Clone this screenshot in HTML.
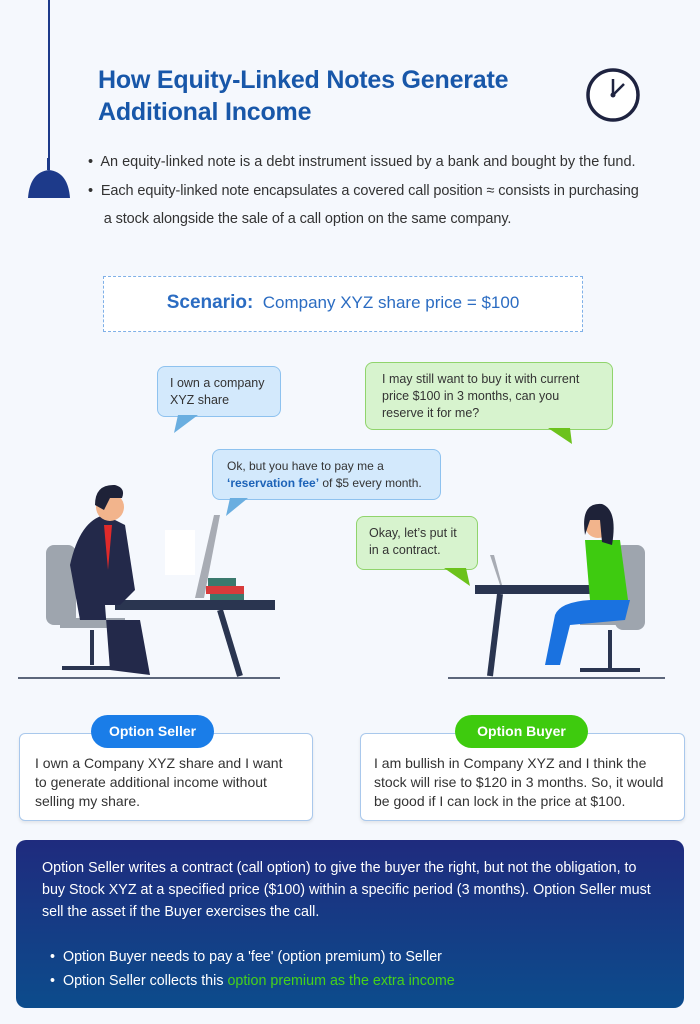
<!DOCTYPE html>
<html><head><meta charset="utf-8"><style>
*{margin:0;padding:0;box-sizing:border-box}
body{width:700px;height:1024px;background:#f5f8fd;font-family:"Liberation Sans",sans-serif;position:relative;overflow:hidden;color:#333}
.a{position:absolute}
.title{left:98px;top:64px;font-size:25px;font-weight:bold;color:#1857a9;line-height:32px;letter-spacing:-0.2px}
.bul{left:88px;font-size:14.5px;color:#333;line-height:28px;white-space:nowrap}
.bub{position:absolute;border-radius:8px;font-size:12.5px;line-height:17px;color:#333;padding:8px 12px;white-space:nowrap}
.bb{background:#d3e9fc;border:1px solid #8ec2ef}
.gb{background:#d7f3ce;border:1px solid #90d46c}
.card{position:absolute;background:#fff;border:1px solid #a9c8ec;border-radius:6px;font-size:14px;line-height:19px;color:#333;padding:20px 14px 0 15px;box-shadow:0 2px 3px rgba(0,0,0,.08)}
.pill{position:absolute;border-radius:17px;color:#fff;font-weight:bold;font-size:14px;text-align:center;line-height:33px}
</style></head><body>
<div class="a" style="left:48px;top:0;width:1.5px;height:170px;background:#1d3a8a"></div>
<svg class="a" style="left:26px;top:158px" width="46" height="42"><rect x="21" y="0" width="3" height="12" fill="#1d3a8a"/><path d="M2 40 Q4 14 23 12 Q42 14 44 40Z" fill="#1d3a8a"/></svg>
<div class="a title">How Equity-Linked Notes Generate<br>Additional Income</div>
<svg class="a" style="left:584px;top:66px" width="60" height="60"><circle cx="29" cy="29" r="25" fill="#fff" stroke="#1e2340" stroke-width="3.5"/><line x1="29" y1="29" x2="29" y2="13" stroke="#1e2340" stroke-width="2.5"/><line x1="29" y1="29" x2="40" y2="18" stroke="#1e2340" stroke-width="2.5"/><circle cx="29" cy="29" r="2.5" fill="#1e2340"/></svg>
<div class="a bul" style="top:148px">•&nbsp; An equity-linked note is a debt instrument issued by a bank and bought by the fund.</div>
<div class="a bul" style="top:177px;letter-spacing:-0.1px">•&nbsp; Each equity-linked note encapsulates a covered call position ≈ consists in purchasing<br>&nbsp;&nbsp;&nbsp; a stock alongside the sale of a call option on the same company.</div>
<div class="a" style="left:103px;top:276px;width:480px;height:56px;border:1.5px dashed #7fb0e8;background:#fff;text-align:center;line-height:52px;color:#2b6cc2;font-size:17px"><b style="font-size:19px">Scenario:</b>&nbsp; Company XYZ share price = $100</div>

<div class="bub bb" style="left:157px;top:366px;width:124px;height:51px">I own a company<br>XYZ share</div>
<svg class="a" style="left:172px;top:415px" width="30" height="20"><path d="M6 0 L2 18 L26 0Z" fill="#6aaee0"/></svg>
<div class="bub gb" style="left:365px;top:362px;width:248px;height:68px;padding-left:16px">I may still want to buy it with current<br>price $100 in 3 months, can you<br>reserve it for me?</div>
<svg class="a" style="left:548px;top:428px" width="30" height="18"><path d="M0 0 L24 16 L22 0Z" fill="#6cc21c"/></svg>
<div class="bub bb" style="left:212px;top:449px;width:229px;height:51px;padding-left:14px;font-size:12px">Ok, but you have to pay me a<br><b style="color:#1d63b8">‘reservation fee’</b> of $5 every month.</div>
<svg class="a" style="left:224px;top:498px" width="30" height="20"><path d="M6 0 L2 18 L24 0Z" fill="#6aaee0"/></svg>
<div class="bub gb" style="left:356px;top:516px;width:122px;height:54px">Okay, let’s put it<br>in a contract.</div>
<svg class="a" style="left:444px;top:568px" width="30" height="20"><path d="M0 0 L26 18 L22 0Z" fill="#6cc21c"/></svg>

<!-- man -->
<svg class="a" style="left:0;top:470px" width="300" height="215">
<line x1="18" y1="208" x2="280" y2="208" stroke="#2a3550" stroke-width="1.5"/>
<rect x="46" y="75" width="30" height="80" rx="8" fill="#9ea5ae"/>
<rect x="60" y="148" width="65" height="10" fill="#9ea5ae"/>
<path d="M92 160 L92 195 M62 198 L122 198" stroke="#2a3550" stroke-width="4"/>
<rect x="115" y="130" width="160" height="10" fill="#2a3550"/>
<path d="M220 140 L240 206" stroke="#2a3550" stroke-width="6"/>
<path d="M70 95 Q80 50 105 45 L125 55 L135 120 L120 135 L105 135 L110 200 L150 205 L140 150 L80 150Z" fill="#23294a"/>
<circle cx="110" cy="37" r="14" fill="#f2b48c"/>
<path d="M95 35 Q95 14 115 15 Q126 18 122 28 L110 28 L104 40Z" fill="#1e2238"/>
<path d="M104 55 L108 100 L112 55Z" fill="#e02a2a"/>
<rect x="165" y="60" width="30" height="45" fill="#fff"/>
<path d="M214 45 L220 45 L204 128 L195 128Z" fill="#a8acb4"/>
<rect x="208" y="108" width="28" height="8" fill="#3b7a6e"/><rect x="206" y="116" width="38" height="8" fill="#d83b3b"/><rect x="210" y="124" width="34" height="6" fill="#3b7a6e"/>
</svg>
<!-- woman -->
<svg class="a" style="left:440px;top:490px" width="230" height="200">
<line x1="8" y1="188" x2="225" y2="188" stroke="#2a3550" stroke-width="1.5"/>
<rect x="175" y="55" width="30" height="85" rx="8" fill="#9ea5ae"/>
<rect x="140" y="125" width="60" height="10" fill="#9ea5ae"/>
<path d="M170 140 L170 178 M140 180 L200 180" stroke="#2a3550" stroke-width="4"/>
<rect x="35" y="95" width="150" height="9" fill="#2a3550"/>
<path d="M60 104 L50 186" stroke="#2a3550" stroke-width="6"/>
<path d="M50 65 L60 95 L62 95 L54 65Z" fill="#a8acb4"/>
<path d="M145 50 L180 50 L188 110 L150 110Z" fill="#3ecb10"/>
<path d="M150 110 L190 110 L185 130 L130 135 L120 175 L105 175 L115 125 Q120 112 150 110Z" fill="#1a72e0"/>
<circle cx="158" cy="35" r="13" fill="#f2b48c"/>
<path d="M145 45 Q140 12 162 14 Q178 20 172 55 L162 52 L160 30 L150 30Z" fill="#1e2238"/>
</svg>

<div class="card" style="left:19px;top:733px;width:294px;height:88px">I own a Company XYZ share and I want to generate additional income without selling my share.</div>
<div class="pill" style="left:91px;top:715px;width:123px;background:#1a7de8">Option Seller</div>
<div class="card" style="left:360px;top:733px;width:325px;height:88px;padding-left:13px">I am bullish in Company XYZ and I think the stock will rise to $120 in 3 months. So, it would be good if I can lock in the price at $100.</div>
<div class="pill" style="left:455px;top:715px;width:133px;background:#3ecb0e">Option Buyer</div>

<div class="a" style="left:16px;top:840px;width:668px;height:168px;border-radius:10px;background:linear-gradient(#1f2b7e,#0c4c8c);color:#fff;font-size:14.3px;line-height:22px;padding:17px 26px 0 26px">
Option Seller writes a contract (call option) to give the buyer the right, but not the obligation, to buy Stock XYZ at a specified price ($100) within a specific period (3 months). Option Seller must sell the asset if the Buyer exercises the call.
<div style="margin-top:22px;padding-left:8px;line-height:24px">•&nbsp; Option Buyer needs to pay a 'fee' (option premium) to Seller<br>•&nbsp; Option Seller collects this <span style="color:#46d21a">option premium as the extra income</span></div>
</div>
</body></html>
